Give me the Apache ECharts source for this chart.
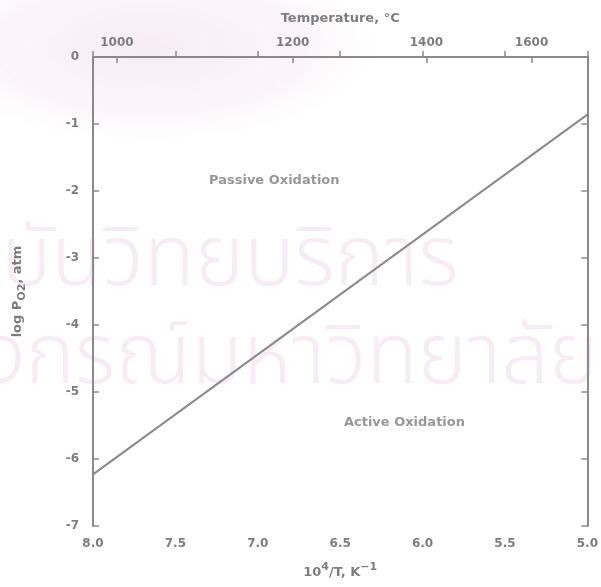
<!DOCTYPE html>
<html>
<head>
<meta charset="utf-8">
<script src="https://cdn.jsdelivr.net/npm/echarts@6/dist/echarts.min.js"></script>
<style>
  html, body { margin: 0; padding: 0; background: #fff; }
  #chart { width: 601px; height: 587px; }
</style>
</head>
<body>
<div id="chart"></div>
<script>
// Reciprocal temperature axis (10^4/T, K^-1), plotted high-to-low
const xMin = 5.0;
const xMax = 8.0;
const xInterval = 0.5;

// log P(O2) axis, atm
const yMin = -7;
const yMax = 0;
const yInterval = 1;

// Temperatures (°C) marked along the top axis
const tempTicksC = [1000, 1200, 1400, 1600];

// Boundary between passive and active oxidation
const boundaryX = [8.0, 5.0];
const boundaryY = [-6.23, -0.86];

// Region labels
const regionNames = ['Passive Oxidation', 'Active Oxidation'];
const regionX = [6.9, 6.11];
const regionY = [-1.85, -5.45];

const INK = '#7d7d7d';
const LINE = '#8a8a8a';
const FONT = 'DejaVu Sans, sans-serif';
const MARK = 'rgba(240,218,236,0.55)';
const MARK_FONT = '300 84px "Noto Sans Thai", "Noto Sans", sans-serif';

const toRecip = c => 1e4 / (c + 273.15);
const topPositions = tempTicksC.map(toRecip);

const chart = echarts.init(document.getElementById('chart'), null, { renderer: 'canvas' });

const axisLineStyle = { show: true, lineStyle: { color: LINE, width: 2 } };
const tickStyle = { show: true, inside: true, length: 6, lineStyle: { color: LINE, width: 1.5 } };
const labelBase = { color: INK, fontFamily: FONT, fontSize: 12, fontWeight: 'bold' };

chart.setOption({
  animation: false,
  backgroundColor: '#fff',
  grid: { left: 92, right: 11, top: 57, bottom: 60, containLabel: false },
  graphic: [
    {
      type: 'circle', silent: true, z: -10,
      x: 150, y: 48, scaleX: 2.4, scaleY: 1,
      shape: { cx: 0, cy: 0, r: 95 },
      style: {
        fill: {
          type: 'radial', x: 0.5, y: 0.5, r: 0.5,
          colorStops: [
            { offset: 0, color: 'rgba(246,230,241,0.75)' },
            { offset: 0.7, color: 'rgba(248,236,244,0.5)' },
            { offset: 1, color: 'rgba(252,246,250,0)' }
          ]
        }
      }
    },
    {
      type: 'text', silent: true, z: -5, left: -130, top: 226,
      style: { text: 'สถาบันวิทยบริการ', fill: MARK, font: MARK_FONT }
    },
    {
      type: 'text', silent: true, z: -5, left: -200, top: 324,
      style: { text: 'จุฬาลงกรณ์มหาวิทยาลัย', fill: MARK, font: MARK_FONT }
    }
  ],
  xAxis: [
    {
      type: 'value', position: 'bottom', inverse: true,
      min: xMin, max: xMax, interval: xInterval,
      axisLine: axisLineStyle, axisTick: tickStyle, splitLine: { show: false },
      axisLabel: Object.assign({}, labelBase, { margin: 12, formatter: v => v.toFixed(1) }),
      name: '{b|10}{s|4}{b|/T, K}{s|−1}',
      nameLocation: 'middle', nameGap: 36,
      nameTextStyle: {
        rich: {
          b: { color: INK, fontFamily: FONT, fontSize: 13, fontWeight: 'bold', verticalAlign: 'bottom', lineHeight: 17 },
          s: { color: INK, fontFamily: FONT, fontSize: 11, fontWeight: 'bold', verticalAlign: 'top', lineHeight: 17, padding: [0, 0, 9, 0] }
        }
      }
    },
    {
      type: 'value', position: 'top', inverse: true,
      min: xMin, max: xMax,
      axisLine: axisLineStyle,
      axisTick: Object.assign({}, tickStyle, { customValues: topPositions }),
      splitLine: { show: false },
      axisLabel: Object.assign({}, labelBase, {
        margin: 8, customValues: topPositions,
        formatter: v => String(Math.round((1e4 / v - 273.15) / 10) * 10)
      }),
      name: 'Temperature, °C', nameLocation: 'middle', nameGap: 32,
      nameTextStyle: { color: INK, fontFamily: FONT, fontSize: 13, fontWeight: 'bold' }
    }
  ],
  yAxis: [
    {
      type: 'value', position: 'left',
      min: yMin, max: yMax, interval: yInterval,
      axisLine: axisLineStyle, axisTick: tickStyle, splitLine: { show: false },
      axisLabel: Object.assign({}, labelBase, { margin: 14 }),
      name: '{b|log P}{s|O2}{b|, atm}',
      nameLocation: 'middle', nameGap: 66, nameRotate: 90,
      nameTextStyle: {
        rich: {
          b: { color: INK, fontFamily: FONT, fontSize: 13, fontWeight: 'bold', lineHeight: 18 },
          s: { color: INK, fontFamily: FONT, fontSize: 11, fontWeight: 'bold', lineHeight: 18, padding: [9, 0, 0, 0] }
        }
      }
    },
    {
      type: 'value', position: 'right',
      min: yMin, max: yMax, interval: yInterval,
      axisLine: axisLineStyle, axisTick: tickStyle, splitLine: { show: false },
      axisLabel: { show: false }
    }
  ],
  series: [
    {
      type: 'line', xAxisIndex: 0, yAxisIndex: 0,
      data: boundaryX.map((x, i) => [x, boundaryY[i]]),
      symbol: 'none', silent: true,
      lineStyle: { color: LINE, width: 2 }
    },
    {
      type: 'scatter', xAxisIndex: 0, yAxisIndex: 0,
      symbolSize: 0, silent: true,
      data: regionNames.map((n, i) => ({ name: n, value: [regionX[i], regionY[i]] })),
      label: {
        show: true, position: 'inside', formatter: p => p.name,
        color: INK, fontFamily: FONT, fontSize: 13, fontWeight: 'bold'
      }
    }
  ]
});
</script>
</body>
</html>
